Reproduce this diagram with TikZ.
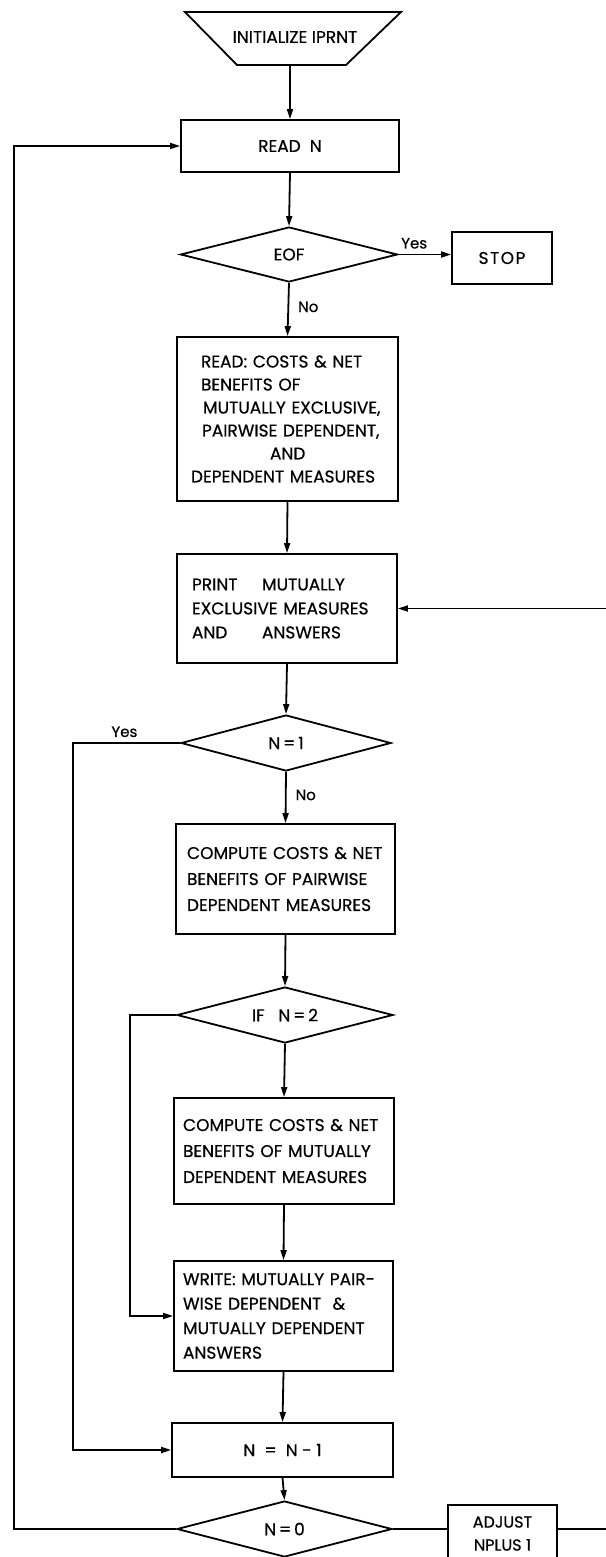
\documentclass[tikz,border=0pt]{standalone}
\usepackage{fontspec}
\setmainfont{Poppins}[BoldFont=Poppins,BoldFeatures={FakeBold=0.6}]
\usetikzlibrary{shapes.geometric,arrows.meta}
\begin{document}
\begin{tikzpicture}[x=1pt,y=-1pt,
  every node/.style={font=\fontsize{17}{24}\selectfont\bfseries},
  flow/.style={line width=1.8pt},
  arr/.style={flow,-{Triangle[length=10pt,width=6pt]}},
  procbox/.style={draw,flow,rectangle,inner sep=0pt},
  decision/.style={draw,flow,diamond,aspect=4,inner sep=0pt},
  lbl/.style={font=\fontsize{15}{17}\selectfont\bfseries,inner sep=0pt}
]
\useasboundingbox (0,0) rectangle (605,1557);

% ---- start terminal: inverted trapezium ----
\draw[flow] (185,12) -- (401,12) -- (346,65) -- (237,65) -- cycle;
\node (init) at (295,37) {INITIALIZE IPRNT};
\coordinate (initbase) at (290,65);

% ---- process boxes and decisions ----
\node[procbox,minimum width=218pt,minimum height=52pt] (readn) at (290,146) {READ\ \ N};

\node[decision,minimum width=217pt,minimum height=55pt] (eof) at (289,254.5) {EOF};

\node[procbox,minimum width=100pt,minimum height=52pt] (stop) at (502,258) {S\kern1.5pt T\kern1.5pt O\kern1.5pt P};

\node[procbox,minimum width=221pt,minimum height=164pt,
      text width=193pt,align=left,font=\fontsize{17}{23}\selectfont\bfseries] (readbox) at (287.5,419)
  {\mbox{\hspace*{10pt}READ:\ COSTS \& NET}\\
   \mbox{\hspace*{10pt}BENEFITS OF}\\
   \mbox{\hspace*{12pt}MUTUALLY EXCLUSIVE,}\\
   \mbox{\hspace*{11pt}PAIRWISE DEPENDENT,}\\
   \mbox{\hspace*{79pt}AND}\\
   \mbox{DEPENDENT MEASURES}};

\node[procbox,minimum width=220pt,minimum height=109pt,
      text width=190pt,align=left] (print) at (287,608.5)
  {\mbox{\makebox[70pt][l]{PRINT}MUTUALLY}\\
   \mbox{EXCLUSIVE MEASURES}\\
   \mbox{\makebox[70pt][l]{AND}ANSWERS}};

\node[decision,minimum width=210pt,minimum height=56pt] (n1) at (286,743) {N\,=\,1};

\node[procbox,minimum width=219pt,minimum height=110pt,
      text width=197pt,align=left,font=\fontsize{17}{26}\selectfont\bfseries] (comp1) at (285.5,879)
  {\mbox{COMPUTE COSTS \& NET}\\
   \mbox{BENEFITS OF PAIRWISE}\\
   \mbox{DEPENDENT MEASURES}};

\node[decision,minimum width=216pt,minimum height=56pt] (n2) at (285,1015) {IF\ \ \ N\,=\,2};

\node[procbox,minimum width=220pt,minimum height=106pt,
      text width=202pt,align=left,font=\fontsize{17}{26}\selectfont\bfseries] (comp2) at (284,1151)
  {\mbox{COMPUTE COSTS \& NET}\\
   \mbox{BENEFITS OF MUTUALLY}\\
   \mbox{DEPENDENT MEASURES}};

\node[procbox,minimum width=219pt,minimum height=110pt,
      text width=201pt,align=left,font=\fontsize{17}{24.5}\selectfont\bfseries] (write) at (283.5,1316)
  {\mbox{WRITE:\ MUTUALLY PAIR-}\\
   \mbox{WISE DEPENDENT\ \ \&}\\
   \mbox{MUTUALLY DEPENDENT}\\
   \mbox{ANSWERS}};

\node[procbox,minimum width=221pt,minimum height=54pt] (nn1) at (282.5,1450) {N\ \ =\ \ N - 1};

\node[decision,minimum width=215pt,minimum height=56pt] (n0) at (284.5,1529) {N\,=\,0};

\node[procbox,minimum width=109pt,minimum height=57pt,align=center,
      font=\fontsize{16}{23}\selectfont\bfseries] (adjust) at (502.5,1533.5) {ADJUST\\NPLUS 1};

% ---- routing columns ----
\coordinate (yesline)  at (73,0);
\coordinate (skipline) at (130,0);
\coordinate (loopline) at (14,0);
\coordinate (rightedge) at (606,0);

% ---- connectors ----
\draw[arr] (initbase) -- (initbase |- readn.north);
\draw[arr] (readn.south) -- (eof.north);
\draw[arr] (eof.east) -- (eof.east -| stop.west)
  node[lbl,pos=0.3,above=5pt] {Yes};
\draw[arr] (eof.south) -- (readbox.north)
  node[lbl,pos=0.45,right=9pt] {No};
\draw[arr] (readbox.south) -- (print.north);
\draw[arr] (print.east -| rightedge) -- (print.east);
\draw[arr] (print.south) -- (n1.north);
\draw[arr] (n1.south) -- (comp1.north)
  node[lbl,pos=0.45,right=9pt] {No};
\draw[arr] (n1.west) -- (n1.west -| yesline)
  node[lbl,pos=0.52,above=5pt] {Yes}
  |- (nn1.west);
\draw[arr] (comp1.south) -- (n2.north);
\draw[arr] (n2.south) -- (comp2.north);
\draw[arr] (n2.west) -- (n2.west -| skipline) |- (write.west);
\draw[arr] (comp2.south) -- (write.north);
\draw[arr] (write.south) -- (nn1.north);
\draw[arr] (nn1.south) -- (n0.north);
\draw[arr] (n0.west) -- (n0.west -| loopline) |- (readn.west);
\draw[flow] (n0.east) -- (n0.east -| adjust.west);
\draw[flow] (adjust.east |- n0.east) -- (n0.east -| rightedge);
\end{tikzpicture}
\end{document}
